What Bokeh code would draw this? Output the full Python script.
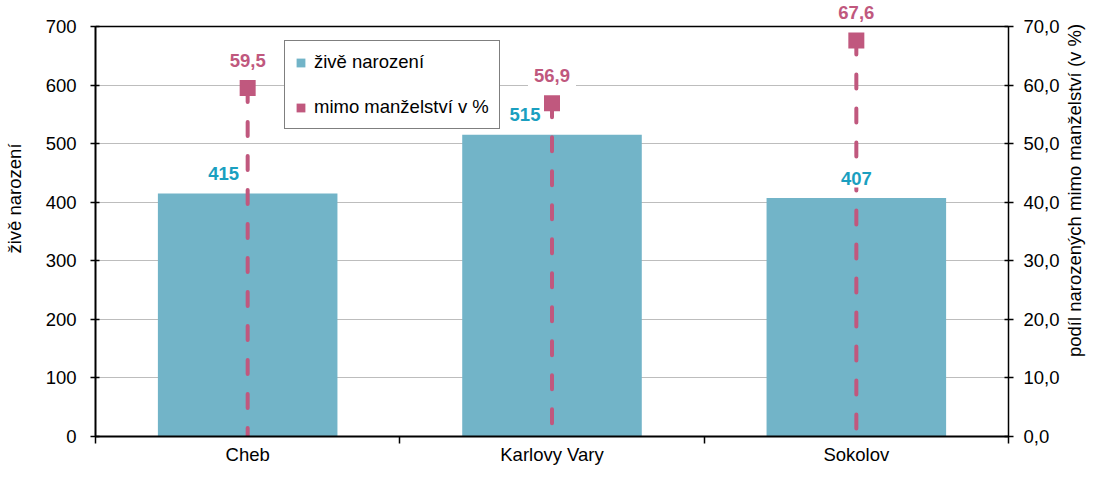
from math import pi
from bokeh.plotting import figure
from bokeh.layouts import row
from bokeh.models import (ColumnDataSource, LinearAxis, Range1d, FixedTicker,
                          Label, Legend, LegendItem, Span)
from bokeh.core.properties import value
from bokeh.embed import file_html
from bokeh.resources import INLINE

# ---- data ----
categories = ["Cheb", "Karlovy Vary", "Sokolov"]
births = [415, 515, 407]
pct_outside = [59.5, 56.9, 67.6]
pct_labels = ["59,5", "56,9", "67,6"]
left_ticks = [0, 100, 200, 300, 400, 500, 600, 700]
right_ticks = [0, 10, 20, 30, 40, 50, 60, 70]
right_tick_labels = ["0,0", "10,0", "20,0", "30,0", "40,0", "50,0", "60,0", "70,0"]
left_title = "živě narození"
right_title = "podíl narozených mimo manželství (v %)"
series_names = ["živě narození", "mimo manželství v %"]

# layout tweak: horizontal shift of bar value labels (px)
bar_label_shift = [-24, -27, 0]

BAR = "#72B4C8"
PINK = "#C0587E"
TEAL_TXT = "#1A9FC0"
FONT = "Liberation Sans"
FS = "18.5px"

# ---- geometry ----
W, H = 1086, 467
LT_W, RT_W = 28, 24               # side strips holding the axis titles
PW = W - LT_W - RT_W
B_LEFT, B_RIGHT, B_BOTTOM = 67, 54, 31
TOP_PAD = 26                      # px between frame top and the 700 line
FRAME_H = H - B_BOTTOM
scale_up = FRAME_H / (FRAME_H - TOP_PAD)

xs = [i + 0.5 for i in range(len(categories))]
src = ColumnDataSource(dict(
    x=xs, births=births, pct=pct_outside,
    blabel=[str(b) for b in births], plabel=pct_labels, dx=bar_label_shift,
))

p = figure(width=PW, height=H,
           x_range=Range1d(0, len(categories)),
           y_range=Range1d(left_ticks[0], left_ticks[-1] * scale_up),
           output_backend="svg", toolbar_location=None,
           min_border_left=B_LEFT, min_border_right=B_RIGHT,
           min_border_top=0, min_border_bottom=B_BOTTOM)
p.extra_y_ranges = {"pct": Range1d(right_ticks[0], right_ticks[-1] * scale_up)}
p.outline_line_color = None
p.background_fill_color = "white"
p.border_fill_color = "white"

# x axis (category labels at centres, ticks at boundaries)
xa = p.xaxis[0]
xa.ticker = FixedTicker(ticks=xs, minor_ticks=list(range(len(categories) + 1)))
xa.major_label_overrides = {x: c for x, c in zip(xs, categories)}
xa.major_tick_line_color = None
xa.major_tick_out = 0
xa.major_tick_in = 0
xa.minor_tick_out = 7
xa.minor_tick_in = 0
xa.minor_tick_line_color = "black"
xa.minor_tick_line_width = 1.5
xa.axis_line_color = "black"
xa.axis_line_width = 2
xa.major_label_text_font = FONT
xa.major_label_text_font_size = FS
xa.major_label_text_color = "black"
xa.major_label_standoff = 0

# left axis
ya = p.yaxis[0]
ya.ticker = FixedTicker(ticks=left_ticks)
ya.bounds = (left_ticks[0], left_ticks[-1])
ya.minor_tick_line_color = None
ya.major_tick_out = 5
ya.major_tick_in = 4
ya.major_tick_line_color = "black"
ya.major_tick_line_width = 1.5
ya.axis_line_color = "black"
ya.axis_line_width = 2
ya.major_label_text_font = FONT
ya.major_label_text_font_size = FS
ya.major_label_text_color = "black"
ya.major_label_standoff = 14

# right axis
ra = LinearAxis(y_range_name="pct", ticker=FixedTicker(ticks=right_ticks))
ra.bounds = (right_ticks[0], right_ticks[-1])
ra.major_label_overrides = {t: s for t, s in zip(right_ticks, right_tick_labels)}
ra.minor_tick_line_color = None
ra.major_tick_out = 5
ra.major_tick_in = 4
ra.major_tick_line_color = "black"
ra.major_tick_line_width = 1.5
ra.axis_line_color = "black"
ra.axis_line_width = 1.5
ra.major_label_text_font = FONT
ra.major_label_text_font_size = FS
ra.major_label_text_color = "black"
ra.major_label_standoff = 10
p.add_layout(ra, "right")

# grid
p.xgrid.grid_line_color = None
p.ygrid.ticker = FixedTicker(ticks=left_ticks)
p.ygrid.grid_line_color = "#BDBDBD"
p.ygrid.grid_line_width = 1
p.add_layout(Span(location=left_ticks[-1], dimension="width", line_color="black",
                  line_width=1.5, level="underlay"))

# bars
bars = p.vbar(x="x", top="births", width=0.59, source=src,
              fill_color=BAR, line_color=None)

# legend proxy (zero-height) for the percentage series
proxy = p.vbar(x="x", top=left_ticks[0], bottom=left_ticks[0], width=0.59, source=src,
               fill_color=PINK, line_color=None)

# drop lines + markers for percentage series
p.segment(x0="x", y0="pct", x1="x", y1=right_ticks[0], source=src, y_range_name="pct",
          line_color=PINK, line_width=4, line_dash="14 20", line_cap="round")
p.scatter(x="x", y="pct", source=src, y_range_name="pct", marker="square",
          size=16, fill_color=PINK, line_color=None)

# value labels (white boxes, like the reference)
p.text(x="x", y="births", text="blabel", source=src,
       x_offset="dx", y_offset=-20, text_align="center", text_baseline="middle",
       text_font=value(FONT), text_font_size=value(FS), text_font_style="bold",
       text_color=TEAL_TXT, background_fill_color="white", padding=3)
p.text(x="x", y="pct", text="plabel", source=src, y_range_name="pct",
       y_offset=-28, text_align="center", text_baseline="middle",
       text_font=value(FONT), text_font_size=value(FS), text_font_style="bold",
       text_color=PINK, background_fill_color="white", padding=6)

# legend
legend = Legend(items=[LegendItem(label=series_names[0], renderers=[bars]),
                       LegendItem(label=series_names[1], renderers=[proxy])],
                location=(189, FRAME_H - 40 - 89), orientation="vertical",
                glyph_width=11, glyph_height=11, label_height=22,
                label_standoff=8, spacing=23, padding=10, margin=0,
                border_line_color="black", border_line_width=1,
                background_fill_color="white", background_fill_alpha=1,
                label_text_font=FONT, label_text_font_size=FS,
                label_text_color="black")
p.add_layout(legend)


def title_strip(width, text, center_from_top):
    f = figure(width=width, height=H, x_axis_type=None, y_axis_type=None,
               output_backend="svg", toolbar_location=None, min_border=0)
    f.outline_line_color = None
    f.background_fill_color = "white"
    f.border_fill_color = "white"
    # the row aligns this strip's frame bottom with the main plot's frame bottom
    f.add_layout(Label(x=width / 2, y=FRAME_H - center_from_top, x_units="screen",
                       y_units="screen", text=text, angle=pi / 2,
                       text_align="center", text_baseline="middle",
                       text_font=FONT, text_font_size=FS, text_color="black"))
    return f


lt = title_strip(LT_W, left_title, 198)
rt = title_strip(RT_W, right_title, 190)

layout = row(lt, p, rt)
open("out.html", "w").write(file_html(layout, INLINE))
